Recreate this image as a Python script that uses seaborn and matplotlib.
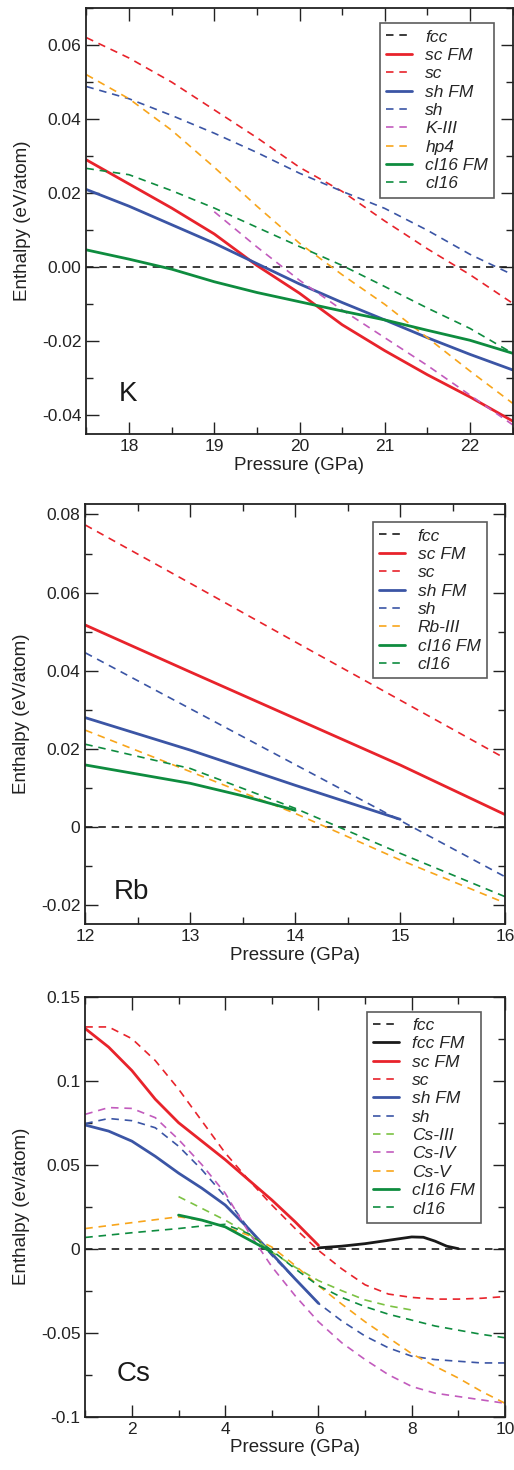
import matplotlib
matplotlib.use("Agg")
import matplotlib.pyplot as plt
import seaborn as sns
import pandas as pd
from matplotlib.ticker import MultipleLocator, FixedLocator

# ---- colours ----
RED = "#e8232b"
BLUE = "#3b55a5"
GREEN = "#0e8c3f"
ORANGE = "#f8a51b"
MAGENTA = "#c25bbd"
LGREEN = "#7cc243"
BLACK = "#1a1a1a"

# ---- K panel data ----
k_p = [17.5, 18.0, 18.5, 19.0, 19.5, 20.0, 20.5, 21.0, 21.5, 22.0, 22.5]
k_fcc = [0.0] * 11
k_sc_fm = [0.029, 0.0225, 0.016, 0.009, 0.0005, -0.007, -0.0155, -0.0225, -0.029, -0.035, -0.0415]
k_sc = [0.062, 0.0565, 0.050, 0.0425, 0.035, 0.027, 0.0205, 0.0125, 0.005, -0.002, -0.0097]
k_sh_fm = [0.021, 0.0165, 0.0115, 0.0065, 0.001, -0.0045, -0.0095, -0.0142, -0.019, -0.0235, -0.0277]
k_sh = [0.0488, 0.0455, 0.041, 0.0362, 0.031, 0.0254, 0.0205, 0.0159, 0.010, 0.0035, -0.002]
k_k3_p = [19.0, 19.5, 20.0, 20.5, 21.0, 21.5, 22.0, 22.5]
k_k3 = [0.015, 0.0055, -0.0035, -0.0115, -0.019, -0.0265, -0.0345, -0.0425]
k_hp4 = [0.052, 0.0455, 0.037, 0.027, 0.0165, 0.0065, -0.002, -0.010, -0.019, -0.028, -0.0367]
k_ci16_fm = [0.0047, 0.0022, -0.0005, -0.0039, -0.0068, -0.0093, -0.0118, -0.0142, -0.017, -0.0197, -0.0232]
k_ci16 = [0.0267, 0.025, 0.0207, 0.016, 0.0108, 0.0056, 0.0005, -0.0052, -0.011, -0.0165, -0.0232]

# ---- Rb panel data ----
rb_p = [12.0, 13.0, 14.0, 15.0, 16.0]
rb_fcc = [0.0] * 5
rb_sc_fm = [0.0517, 0.0397, 0.0278, 0.0159, 0.0032]
rb_sc = [0.0773, 0.0624, 0.0474, 0.0325, 0.0176]
rb_sh_fm_p = [12.0, 13.0, 14.0, 15.0]
rb_sh_fm = [0.028, 0.0197, 0.0107, 0.002]
rb_sh = [0.0446, 0.0303, 0.016, 0.0017, -0.0127]
rb_rb3 = [0.0248, 0.0142, 0.0035, -0.0084, -0.0194]
rb_ci16_fm_p = [12.0, 13.0, 13.5, 14.0]
rb_ci16_fm = [0.0159, 0.0112, 0.008, 0.0043]
rb_ci16 = [0.0212, 0.015, 0.0048, -0.0067, -0.0178]

# ---- Cs panel data ----
cs_p = [1.0, 1.5, 2.0, 2.5, 3.0, 3.5, 4.0, 4.5, 5.0, 5.5, 6.0,
        6.5, 7.0, 7.5, 8.0, 8.5, 9.0, 9.5, 10.0]
cs_fcc = [0.0] * 19
cs_fcc_fm_p = [6.0, 6.5, 7.0, 7.5, 8.0, 8.25, 8.5, 8.75, 9.0]
cs_fcc_fm = [0.0005, 0.0015, 0.003, 0.005, 0.007, 0.0068, 0.0045, 0.0015, 0.0]
cs_fm_p = [1.0, 1.5, 2.0, 2.5, 3.0, 3.5, 4.0, 4.5, 5.0, 5.5, 6.0]
cs_sc_fm = [0.131, 0.12, 0.106, 0.089, 0.075, 0.064, 0.053, 0.041, 0.029, 0.016, 0.002]
cs_sc = [0.132, 0.132, 0.125, 0.112, 0.095, 0.076, 0.057, 0.041, 0.026, 0.012, -0.001,
         -0.012, -0.0215, -0.027, -0.029, -0.030, -0.030, -0.0295, -0.0285]
cs_sh_fm = [0.0736, 0.070, 0.064, 0.055, 0.045, 0.036, 0.026, 0.012, -0.003, -0.018, -0.0325]
cs_sh = [0.0745, 0.0775, 0.0762, 0.072, 0.061, 0.047, 0.031, 0.012, -0.004, -0.018, -0.0325,
         -0.043, -0.052, -0.059, -0.064, -0.066, -0.067, -0.068, -0.068]
cs_cs3_p = [3.0, 3.5, 4.0, 4.5, 5.0, 5.5, 6.0, 6.5, 7.0, 7.5, 8.0]
cs_cs3 = [0.031, 0.024, 0.017, 0.009, -0.002, -0.011, -0.019, -0.025, -0.0305, -0.034, -0.0365]
cs_cs4 = [0.080, 0.084, 0.0835, 0.078, 0.065, 0.05, 0.033, 0.010, -0.0107, -0.028, -0.0435,
          -0.056, -0.066, -0.075, -0.082, -0.086, -0.088, -0.090, -0.092]
cs_cs5_p = [1.0, 2.0, 3.0, 3.5, 4.0, 4.5, 5.0, 5.5, 6.0, 6.5, 7.0, 7.5, 8.0, 8.5, 9.0, 9.5, 10.0]
cs_cs5 = [0.012, 0.0155, 0.019, 0.017, 0.013, 0.008, 0.001, -0.010, -0.022, -0.033, -0.0435,
          -0.053, -0.0625, -0.070, -0.077, -0.085, -0.092]
cs_ci16_fm_p = [3.0, 3.5, 4.0, 4.5, 5.0]
cs_ci16_fm = [0.020, 0.017, 0.013, 0.0055, -0.002]
cs_ci16 = [0.0067, 0.0095, 0.012, 0.0135, 0.0145, 0.009, -0.001, -0.012, -0.022, -0.029,
           -0.0345, -0.039, -0.0425, -0.046, -0.0485, -0.051, -0.053]

sns.set_theme(style="ticks")
plt.rcParams["font.family"] = ["Liberation Sans", "DejaVu Sans"]

fig = plt.figure(figsize=(5.14, 14.70), dpi=100)

W, H = 514.0, 1470.0


def make_ax(l, t, r, b):
    return fig.add_axes([l / W, 1 - b / H, (r - l) / W, (b - t) / H])


SOLID = dict(linewidth=2.0, linestyle="-")
DASH = dict(linewidth=1.2, linestyle=(0, (4.5, 3.5)))


def draw(ax, x, y, color, label, style):
    df = pd.DataFrame({"P": x, "H": y})
    sns.lineplot(data=df, x="P", y="H", ax=ax, color=color, label=label,
                 sort=False, estimator=None, **style)


def finish(ax, xlim, ylim, xmaj, xmin, yticks, ylabels, ymin, ylabel, name, name_pos):
    ax.set_xlim(*xlim)
    ax.set_ylim(*ylim)
    ax.xaxis.set_major_locator(MultipleLocator(xmaj))
    ax.xaxis.set_minor_locator(MultipleLocator(xmin))
    ax.yaxis.set_major_locator(FixedLocator(yticks))
    ax.set_yticklabels(ylabels)
    ax.yaxis.set_minor_locator(MultipleLocator(ymin))
    ax.tick_params(which="both", direction="in", top=True, right=True,
                   labelsize=12.5, colors="#222222", width=1.0)
    ax.tick_params(which="major", length=9)
    ax.tick_params(which="minor", length=5)
    for s in ax.spines.values():
        s.set_linewidth(1.3)
        s.set_color("#222222")
    ax.set_xlabel("Pressure (GPa)", fontsize=13.5, color="#222222", labelpad=2)
    ax.set_ylabel(ylabel, fontsize=13.5, color="#222222", labelpad=8)
    ax.text(name_pos[0], name_pos[1], name, transform=ax.transAxes,
            fontsize=20, color="#1a1a1a", va="center", ha="left")


def legend(ax, bbox):
    l, t, r, b = bbox
    leg = ax.legend(loc="upper right", prop={"style": "italic", "size": 12.5},
                    frameon=True, fancybox=False, edgecolor="#333333",
                    handlelength=1.5, handletextpad=0.75, labelspacing=0.185,
                    borderpad=0.35, borderaxespad=0)
    leg.get_frame().set_linewidth(1.2)
    leg.set_bbox_to_anchor((r / W, 1 - t / H), transform=fig.transFigure)


# ---- K ----
ax1 = make_ax(86.4, 8, 512.6, 434)
draw(ax1, k_p, k_fcc, BLACK, "fcc", DASH)
draw(ax1, k_p, k_sc_fm, RED, "sc FM", SOLID)
draw(ax1, k_p, k_sc, RED, "sc", DASH)
draw(ax1, k_p, k_sh_fm, BLUE, "sh FM", SOLID)
draw(ax1, k_p, k_sh, BLUE, "sh", DASH)
draw(ax1, k_k3_p, k_k3, MAGENTA, "K-III", DASH)
draw(ax1, k_p, k_hp4, ORANGE, "hp4", DASH)
draw(ax1, k_p, k_ci16_fm, GREEN, "cI16 FM", SOLID)
draw(ax1, k_p, k_ci16, GREEN, "cI16", DASH)
finish(ax1, (17.5, 22.5), (-0.045, 0.07), 1, 0.5,
       [-0.04, -0.02, 0.0, 0.02, 0.04, 0.06],
       ["-0.04", "-0.02", "0.00", "0.02", "0.04", "0.06"], 0.01,
       "Enthalpy (eV/atom)", "K", (0.075, 0.094))
legend(ax1, (381.7, 23.3, 494.3, 200))

# ---- Rb ----
ax2 = make_ax(85.3, 504.3, 505, 924)
draw(ax2, rb_p, rb_fcc, BLACK, "fcc", DASH)
draw(ax2, rb_p, rb_sc_fm, RED, "sc FM", SOLID)
draw(ax2, rb_p, rb_sc, RED, "sc", DASH)
draw(ax2, rb_sh_fm_p, rb_sh_fm, BLUE, "sh FM", SOLID)
draw(ax2, rb_p, rb_sh, BLUE, "sh", DASH)
draw(ax2, rb_p, rb_rb3, ORANGE, "Rb-III", DASH)
draw(ax2, rb_ci16_fm_p, rb_ci16_fm, GREEN, "cI16 FM", SOLID)
draw(ax2, rb_p, rb_ci16, GREEN, "cI16", DASH)
finish(ax2, (12, 16), (-0.0248, 0.0826), 1, 0.5,
       [-0.02, 0.0, 0.02, 0.04, 0.06, 0.08],
       ["-0.02", "0", "0.02", "0.04", "0.06", "0.08"], 0.01,
       "Enthalpy (eV/atom)", "Rb", (0.068, 0.076))
legend(ax2, (375.7, 522.3, 486.7, 675))

# ---- Cs ----
ax3 = make_ax(85.3, 996.7, 505, 1416.7)
draw(ax3, cs_p, cs_fcc, BLACK, "fcc", DASH)
draw(ax3, cs_fcc_fm_p, cs_fcc_fm, BLACK, "fcc FM", SOLID)
draw(ax3, cs_fm_p, cs_sc_fm, RED, "sc FM", SOLID)
draw(ax3, cs_p, cs_sc, RED, "sc", DASH)
draw(ax3, cs_fm_p, cs_sh_fm, BLUE, "sh FM", SOLID)
draw(ax3, cs_p, cs_sh, BLUE, "sh", DASH)
draw(ax3, cs_cs3_p, cs_cs3, LGREEN, "Cs-III", DASH)
draw(ax3, cs_p, cs_cs4, MAGENTA, "Cs-IV", DASH)
draw(ax3, cs_cs5_p, cs_cs5, ORANGE, "Cs-V", DASH)
draw(ax3, cs_ci16_fm_p, cs_ci16_fm, GREEN, "cI16 FM", SOLID)
draw(ax3, cs_cs5_p, cs_ci16, GREEN, "cI16", DASH)
finish(ax3, (1, 10), (-0.1, 0.15), 2, 1,
       [-0.1, -0.05, 0.0, 0.05, 0.1, 0.15],
       ["-0.1", "-0.05", "0", "0.05", "0.1", "0.15"], 0.025,
       "Enthalpy (ev/atom)", "Cs", (0.075, 0.102))
legend(ax3, (369.3, 1011.7, 481, 1221))

fig.savefig("out.png", dpi=100)
plt.close(fig)
